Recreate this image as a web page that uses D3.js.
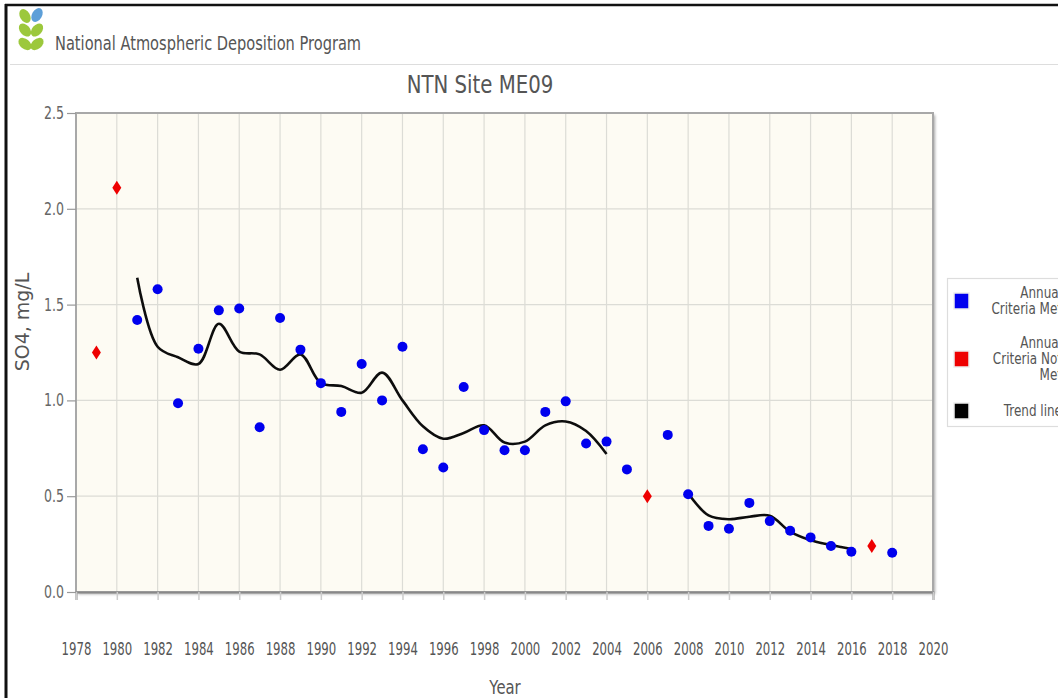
<!DOCTYPE html>
<html>
<head>
<meta charset="utf-8">
<script src="https://cdn.jsdelivr.net/npm/d3@7"></script>
<style>
  html, body { margin: 0; padding: 0; background: #fff; overflow: hidden; }
  svg { display: block; }
  text { font-family: "DejaVu Sans", "Open Sans", sans-serif; fill: #555; }
</style>
</head>
<body>
<script>
// Annual precipitation-weighted SO4 concentrations, NTN site ME09
const metYears = [1981, 1982, 1983, 1984, 1985, 1986, 1987, 1988, 1989, 1990, 1991, 1992, 1993, 1994, 1995, 1996, 1997, 1998, 1999, 2000, 2001, 2002, 2003, 2004, 2005, 2007, 2008, 2009, 2010, 2011, 2012, 2013, 2014, 2015, 2016, 2018];
const metValues = [1.42, 1.58, 0.985, 1.27, 1.47, 1.48, 0.86, 1.43, 1.265, 1.09, 0.94, 1.19, 1.00, 1.28, 0.745, 0.65, 1.07, 0.845, 0.74, 0.74, 0.94, 0.995, 0.775, 0.785, 0.64, 0.82, 0.51, 0.345, 0.33, 0.465, 0.37, 0.32, 0.285, 0.24, 0.21, 0.205];

const notMetYears = [1979, 1980, 2006, 2017];
const notMetValues = [1.25, 2.11, 0.50, 0.24];

// Smoothed trend, broken where no valid years exist
const trendYears = [1981, 1982, 1983, 1984, 1985, 1986, 1987, 1988, 1989, 1990, 1991, 1992, 1993, 1994, 1995, 1996, 1997, 1998, 1999, 2000, 2001, 2002, 2003, 2004, 2005, 2006, 2007, 2008, 2009, 2010, 2011, 2012, 2013, 2014, 2015, 2016];
const trendValues = [1.64, 1.28, 1.225, 1.19, 1.40, 1.255, 1.24, 1.16, 1.24, 1.09, 1.075, 1.04, 1.145, 1.00, 0.865, 0.80, 0.83, 0.87, 0.78, 0.785, 0.87, 0.89, 0.84, 0.72, null, null, null, 0.515, 0.40, 0.38, 0.393, 0.398, 0.315, 0.27, 0.245, 0.224];

const xTicks = d3.range(1978, 2021, 2);
const yTicks = [0, 0.5, 1.0, 1.5, 2.0, 2.5];

const legendItems = [
  { color: "#0000ee", lines: ["Annual", "Criteria Met"] },
  { color: "#ee0000", lines: ["Annual", "Criteria Not", "Met"] },
  { color: "#000000", lines: ["Trend line"] }
];

const W = 1058, H = 698;
const svg = d3.select("body").append("svg").attr("width", W).attr("height", H);

// Horizontally condense a text placed at (px, py), optionally rotated
function narrowText(parent, px, py, str, opts) {
  const o = Object.assign({ size: 16, ratio: 0.75, anchor: "start", rotate: 0, color: "#555" }, opts);
  return parent.append("text")
    .attr("transform", `translate(${px},${py}) rotate(${o.rotate}) scale(${o.ratio},1)`)
    .attr("text-anchor", o.anchor).attr("font-size", o.size)
    .style("fill", o.color).text(str);
}

const defs = svg.append("defs");
const shadow = defs.append("filter").attr("id", "frameShadow")
  .attr("x", "-5%").attr("y", "-5%").attr("width", "110%").attr("height", "110%");
shadow.append("feDropShadow").attr("dx", 2).attr("dy", 2).attr("stdDeviation", 1.5)
  .attr("flood-color", "#000").attr("flood-opacity", 0.35);
const soft = defs.append("filter").attr("id", "soft");
soft.append("feGaussianBlur").attr("stdDeviation", 0.6);

// Page frame and header
svg.append("line").attr("x1", 5).attr("x2", W).attr("y1", 5).attr("y2", 5)
  .attr("stroke", "#111").attr("stroke-width", 2.5);
svg.append("line").attr("x1", 6).attr("x2", 6).attr("y1", 4).attr("y2", H)
  .attr("stroke", "#111").attr("stroke-width", 3);
svg.append("line").attr("x1", 10).attr("x2", W).attr("y1", 64.5).attr("y2", 64.5)
  .attr("stroke", "#ddd").attr("stroke-width", 1.2);

// Logo: stem with paired leaves
const logo = svg.append("g").attr("transform", "translate(31,30)");
const leaf = (cx, cy, rot, color) => logo.append("ellipse")
  .attr("cx", 0).attr("cy", 0).attr("rx", 7.5).attr("ry", 5)
  .attr("transform", `translate(${cx},${cy}) rotate(${rot})`).attr("fill", color);
leaf(-6, -14, 60, "#9cc83c");
leaf(6, -15, -60, "#5d9fd8");
leaf(-6, 0, 50, "#9cc83c");
leaf(6, 0, -50, "#9cc83c");
leaf(-6, 14, 40, "#9cc83c");
leaf(6, 14, -40, "#9cc83c");

narrowText(svg, 55, 50, "National Atmospheric Deposition Program", { size: 20, ratio: 0.73 });

// Scales
const x = d3.scaleLinear().domain([1978, 2020]).range([76, 933]);
const y = d3.scaleLinear().domain([0, 2.5]).range([592, 113]);

// Plot background and frame
svg.append("rect").attr("x", x(1978)).attr("y", y(2.5))
  .attr("width", x(2020) - x(1978)).attr("height", y(0) - y(2.5))
  .attr("fill", "#fdfbf3").attr("filter", "url(#frameShadow)");

const grid = svg.append("g");
grid.selectAll("line.v").data(xTicks).join("line").attr("class", "v")
  .attr("x1", d => x(d)).attr("x2", d => x(d))
  .attr("y1", y(2.5)).attr("y2", y(0))
  .attr("stroke", "#dcdcd6").attr("stroke-width", 1.2);
grid.selectAll("line.h").data(yTicks).join("line").attr("class", "h")
  .attr("x1", x(1978)).attr("x2", x(2020))
  .attr("y1", d => y(d)).attr("y2", d => y(d))
  .attr("stroke", "#dcdcd6").attr("stroke-width", 1.2);

svg.append("rect").attr("x", x(1978)).attr("y", y(2.5))
  .attr("width", x(2020) - x(1978)).attr("height", y(0) - y(2.5))
  .attr("fill", "none").attr("stroke", "#a8a8a8").attr("stroke-width", 2);

// Axes
const xAxis = svg.append("g").attr("transform", `translate(0,${y(0)})`)
  .call(d3.axisBottom(x).tickValues(xTicks).tickFormat(d3.format("d")).tickSize(8).tickPadding(42));
xAxis.select(".domain").attr("stroke", "#888").attr("stroke-width", 2);
xAxis.selectAll(".tick line").attr("stroke", "#ccc").attr("stroke-width", 1.5);
xAxis.selectAll(".tick text").attr("font-size", 18).style("fill", "#555")
  .attr("font-family", "DejaVu Sans, sans-serif")
  .attr("transform", "scale(0.65,1)");

const yAxis = svg.append("g").attr("transform", `translate(${x(1978)},0)`)
  .call(d3.axisLeft(y).tickValues(yTicks).tickFormat(d3.format(".1f")).tickSize(9).tickPadding(3));
yAxis.select(".domain").remove();
yAxis.selectAll(".tick line").attr("stroke", "#999").attr("stroke-width", 1.2);
yAxis.selectAll(".tick text").attr("font-size", 17).style("fill", "#666")
  .attr("font-family", "DejaVu Sans, sans-serif")
  .attr("transform", "scale(0.74,1)")
  .attr("x", -12 / 0.74);

// Titles
narrowText(svg, 480, 93, "NTN Site ME09", { size: 25, ratio: 0.79, anchor: "middle" });
narrowText(svg, 505, 694, "Year", { size: 19, ratio: 0.78, anchor: "middle" });
narrowText(svg, 29, 322, "SO4, mg/L", { size: 20, ratio: 0.95, anchor: "middle", rotate: -90 });

// Trend line
const trend = trendYears.map((yr, i) => ({ yr, v: trendValues[i] }));
svg.append("path").datum(trend)
  .attr("d", d3.line().defined(d => d.v !== null)
    .x(d => x(d.yr)).y(d => y(d.v)).curve(d3.curveCatmullRom.alpha(0.5)))
  .attr("fill", "none").attr("stroke", "#111").attr("stroke-width", 2.6)
  .attr("stroke-linejoin", "round").attr("filter", "url(#soft)");

// Criteria-met points
svg.append("g").attr("filter", "url(#soft)")
  .selectAll("circle").data(metYears.map((yr, i) => ({ yr, v: metValues[i] })))
  .join("circle").attr("cx", d => x(d.yr)).attr("cy", d => y(d.v)).attr("r", 5)
  .attr("fill", "#0000ee");

// Criteria-not-met points
svg.append("g").attr("filter", "url(#soft)")
  .selectAll("path").data(notMetYears.map((yr, i) => ({ yr, v: notMetValues[i] })))
  .join("path").attr("transform", d => `translate(${x(d.yr)},${y(d.v)})`)
  .attr("d", "M0,-7 L4.5,0 L0,7 L-4.5,0 Z").attr("fill", "#ee0000");

// Legend
const lg = svg.append("g");
lg.append("rect").attr("x", 947.5).attr("y", 278.5).attr("width", 130).attr("height", 148)
  .attr("fill", "#fff").attr("stroke", "#ddd").attr("stroke-width", 1.2);
const rows = [293, 351, 403];
legendItems.forEach((item, i) => {
  const top = rows[i];
  lg.append("rect").attr("x", 954).attr("y", top).attr("width", 15).attr("height", 16)
    .attr("fill", item.color).attr("stroke", "#eee").attr("stroke-width", 1.5);
  const n = item.lines.length;
  const mid = top + 8;
  item.lines.forEach((ln, j) => {
    narrowText(lg, 1062, mid + (j - (n - 1) / 2) * 16 + 5, ln,
      { size: 15, ratio: 0.8, anchor: "end" });
  });
});
</script>
</body>
</html>
